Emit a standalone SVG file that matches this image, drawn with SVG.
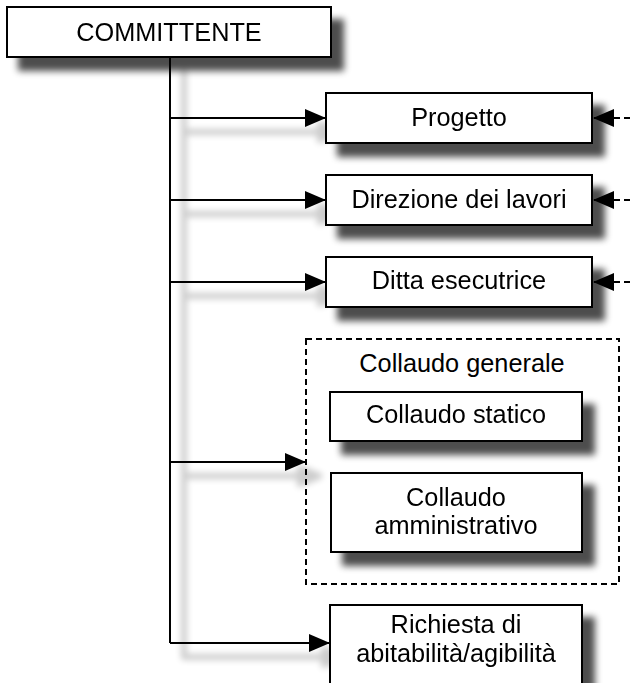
<svg xmlns="http://www.w3.org/2000/svg" width="631" height="683" viewBox="0 0 631 683">
<style>
.box{fill:#fff;stroke:#000;stroke-width:2}
.t{font-family:"Liberation Sans",Arial,sans-serif;font-size:25.3px;fill:#000;text-anchor:middle}
.ln{fill:none;stroke:#000;stroke-width:2}
.dash{fill:none;stroke:#000;stroke-width:2;stroke-dasharray:6 4}
</style>
<defs>
<filter id="sh" x="-20%" y="-20%" width="150%" height="170%">
<feGaussianBlur in="SourceAlpha" stdDeviation="3.5"/>
<feOffset dx="12" dy="13" result="b"/>
<feComponentTransfer><feFuncA type="linear" slope="0.7"/></feComponentTransfer>
<feMerge><feMergeNode/><feMergeNode in="SourceGraphic"/></feMerge>
</filter>
<filter id="shl" x="-50%" y="-5%" width="200%" height="120%">
<feMorphology in="SourceAlpha" operator="dilate" radius="2"/>
<feGaussianBlur stdDeviation="3"/>
<feOffset dx="14" dy="14"/>
<feComponentTransfer><feFuncA type="linear" slope="0.2"/></feComponentTransfer>
<feMerge><feMergeNode/><feMergeNode in="SourceGraphic"/></feMerge>
</filter>
<marker id="ah" markerWidth="21" markerHeight="18" refX="21" refY="9" orient="auto" markerUnits="userSpaceOnUse">
<path d="M0,0 L21,9 L0,18 Z" fill="#000"/>
</marker>
</defs>
<g id="connectors">
<g filter="url(#shl)">
<path class="ln" d="M170,57 V643"/>
<path class="ln" d="M170,118 H326" marker-end="url(#ah)"/>
<path class="ln" d="M170,200 H326" marker-end="url(#ah)"/>
<path class="ln" d="M170,282 H326" marker-end="url(#ah)"/>
<path class="ln" d="M170,462 H306" marker-end="url(#ah)"/>
<path class="ln" d="M170,643 H330" marker-end="url(#ah)"/>
</g>
<path class="dash" d="M640,118 H593" marker-end="url(#ah)"/>
<path class="dash" d="M640,200 H593" marker-end="url(#ah)"/>
<path class="dash" d="M640,282 H593" marker-end="url(#ah)"/>
</g>
<g id="committente" filter="url(#sh)">
<rect class="box" x="7" y="7" width="324" height="50"/>
<text class="t" x="169" y="41">COMMITTENTE</text>
</g>
<g id="progetto" filter="url(#sh)">
<rect class="box" x="326" y="93" width="266" height="50"/>
<text class="t" x="459" y="126">Progetto</text>
</g>
<g id="direzione" filter="url(#sh)">
<rect class="box" x="326" y="175" width="266" height="50"/>
<text class="t" x="459" y="208">Direzione dei lavori</text>
</g>
<g id="ditta" filter="url(#sh)">
<rect class="box" x="326" y="257" width="266" height="50"/>
<text class="t" x="459" y="289">Ditta esecutrice</text>
</g>
<g id="collaudo-generale">
<rect class="dash" x="306" y="339" width="313" height="245"/>
<text class="t" x="462" y="372">Collaudo generale</text>
</g>
<g id="collaudo-statico" filter="url(#sh)">
<rect class="box" x="330" y="392" width="252" height="49"/>
<text class="t" x="456" y="423">Collaudo statico</text>
</g>
<g id="collaudo-amministrativo" filter="url(#sh)">
<rect class="box" x="331" y="473" width="251" height="79"/>
<text class="t" x="456" y="506">Collaudo</text>
<text class="t" x="456" y="534">amministrativo</text>
</g>
<g id="richiesta" filter="url(#sh)">
<rect class="box" x="330" y="605" width="252" height="95"/>
<text class="t" x="456" y="633">Richiesta di</text>
<text class="t" x="456" y="662">abitabilità/agibilità</text>
</g>
</svg>
